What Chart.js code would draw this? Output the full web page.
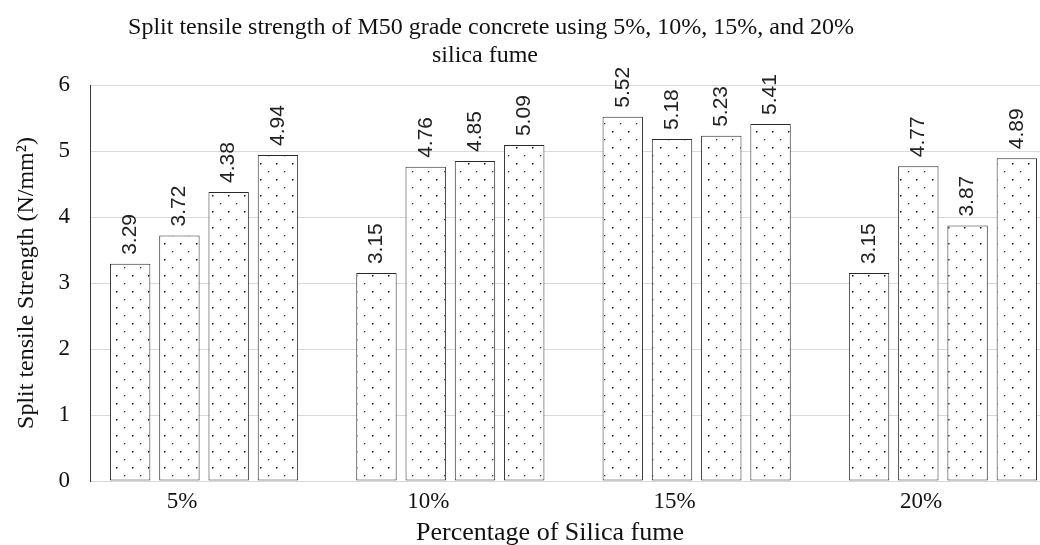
<!DOCTYPE html>
<html>
<head>
<meta charset="utf-8">
<script src="https://cdn.jsdelivr.net/npm/chart.js@4.4.1/dist/chart.umd.min.js"></script>
<style>
  html, body { margin: 0; padding: 0; background: #fff; }
  #wrap { width: 1040px; height: 545px; position: relative; overflow: hidden; }
</style>
</head>
<body>
<div id="wrap"><canvas id="c"></canvas></div>
<script>
// Silica fume replacement levels (category axis)
const categories = ['5%', '10%', '15%', '20%'];

// Split tensile strength (N/mm²), one array per bar position within each group
const seriesA = [3.29, 3.15, 5.52, 3.15];
const seriesB = [3.72, 4.76, 5.18, 4.77];
const seriesC = [4.38, 4.85, 5.23, 3.87];
const seriesD = [4.94, 5.09, 5.41, 4.89];

const yTicks = [0, 1, 2, 3, 4, 5, 6];

const titleLines = ['Split tensile strength of M50 grade concrete using 5%, 10%, 15%, and 20%', 'silica fume'];
const xTitle = 'Percentage of Silica fume';
const yTitle = 'Split tensile Strength (N/mm\u00B2)';

const SERIF = '"Liberation Serif", "Times New Roman", serif';
const SANS = '"Liberation Sans", Arial, sans-serif';

// Dotted fill used for every bar
function dotPattern() {
  const t = document.createElement('canvas');
  t.width = 16; t.height = 16;
  const g = t.getContext('2d');
  g.fillStyle = '#fff';
  g.fillRect(0, 0, 16, 16);
  g.fillStyle = '#111';
  g.fillRect(4, 3, 1.5, 1.5);
  g.fillStyle = '#333';
  g.fillRect(12, 11, 1.3, 1.3);
  return g.createPattern(t, 'repeat');
}
const fill = dotPattern();

function toPoints(arr) { return arr.map((v, i) => ({ x: i, y: v })); }

const barStyle = {
  backgroundColor: fill,
  borderColor: '#2a2a2a',
  borderWidth: 1,
  borderSkipped: false,
  categoryPercentage: 0.8,
  barPercentage: 0.82
};

// Rotated value labels above the bars
const valueLabels = {
  id: 'valueLabels',
  afterDatasetsDraw(chart) {
    const ctx = chart.ctx;
    ctx.save();
    ctx.font = '21px ' + SANS;
    ctx.fillStyle = '#222';
    ctx.textAlign = 'left';
    ctx.textBaseline = 'middle';
    chart.data.datasets.forEach((ds, di) => {
      const meta = chart.getDatasetMeta(di);
      meta.data.forEach((el, i) => {
        const v = ds.data[i].y;
        ctx.save();
        ctx.translate(el.x, el.y - 9);
        ctx.rotate(-Math.PI / 2);
        ctx.fillText(v.toFixed(2), 0, 0);
        ctx.restore();
      });
    });
    ctx.restore();
  }
};

// Chart title and horizontal axis title
const headings = {
  id: 'headings',
  afterDraw(chart) {
    const ctx = chart.ctx;
    ctx.save();
    ctx.fillStyle = '#111';
    ctx.textAlign = 'center';
    ctx.textBaseline = 'alphabetic';
    ctx.font = '24px ' + SERIF;
    ctx.fillText(titleLines[0], 491, 34);
    ctx.fillText(titleLines[1], 485, 62);
    ctx.font = '26px ' + SERIF;
    ctx.fillText(xTitle, 550, 540);
    ctx.restore();
  }
};

new Chart(document.getElementById('c'), {
  type: 'bar',
  data: {
    datasets: [
      Object.assign({ label: 'Series 1', data: toPoints(seriesA) }, barStyle),
      Object.assign({ label: 'Series 2', data: toPoints(seriesB) }, barStyle),
      Object.assign({ label: 'Series 3', data: toPoints(seriesC) }, barStyle),
      Object.assign({ label: 'Series 4', data: toPoints(seriesD) }, barStyle)
    ]
  },
  options: {
    responsive: true,
    maintainAspectRatio: false,
    animation: false,
    events: [],
    layout: { padding: { top: 85, right: 0, bottom: 0, left: 0 } },
    plugins: {
      legend: { display: false },
      title: { display: false },
      tooltip: { enabled: false }
    },
    scales: {
      x: {
        type: 'linear',
        offset: false,
        min: -0.463,
        max: 3.394,
        grid: { display: false, offset: false },
        border: { display: false },
        ticks: {
          stepSize: 1,
          includeBounds: false,
          autoSkip: false,
          maxRotation: 0,
          padding: -1,
          labelOffset: -22,
          color: '#111',
          font: { family: SERIF, size: 23 },
          callback: (v) => categories[v] !== undefined ? categories[v] : ''
        },
        afterFit(scale) { scale.height = 64; }
      },
      y: {
        min: 0,
        max: 6,
        afterBuildTicks(scale) { scale.ticks = yTicks.map(v => ({ value: v })); },
        grid: { color: '#d9d9d9', lineWidth: 1, drawTicks: false },
        border: { display: true, color: '#3a3a3a', width: 1 },
        ticks: {
          padding: 20,
          color: '#111',
          font: { family: SERIF, size: 23 }
        },
        title: {
          display: true,
          text: yTitle,
          color: '#111',
          font: { family: SERIF, size: 24, lineHeight: 1 },
          padding: { top: 15, bottom: 0 }
        },
        afterFit(scale) { scale.width = 90; }
      }
    }
  },
  plugins: [valueLabels, headings]
});
</script>
</body>
</html>
